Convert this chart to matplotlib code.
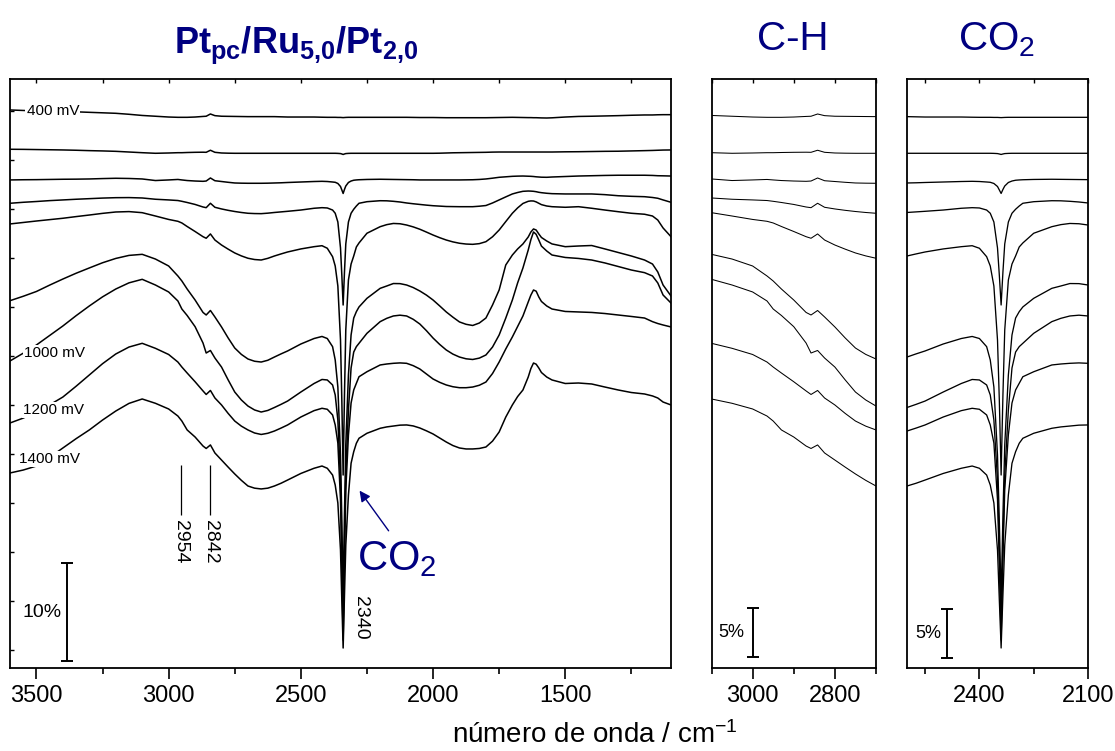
import numpy as np
import matplotlib
matplotlib.use("Agg")
import matplotlib.pyplot as plt
from matplotlib.ticker import MultipleLocator, FixedLocator, NullFormatter

plt.rcParams['font.family'] = ['Liberation Sans', 'DejaVu Sans']
plt.rcParams['mathtext.fontset'] = 'custom'
plt.rcParams['mathtext.rm'] = 'Liberation Sans'
plt.rcParams['mathtext.it'] = 'Liberation Sans:italic'
plt.rcParams['mathtext.bf'] = 'Liberation Sans:bold'

NAVY = '#000080'

# ---- spectra (stacked, in % with offsets), common wavenumber grid / cm-1 ----
wavenumber = [3600, 3550, 3500, 3450, 3400, 3350, 3300, 3250, 3200, 3150,
              3100, 3050, 3000, 2965, 2950, 2930, 2900, 2870, 2858, 2842,
              2825, 2800, 2775, 2750, 2725, 2700, 2675, 2650, 2625, 2600,
              2575, 2550, 2500, 2450, 2420, 2400, 2380, 2370, 2360, 2350,
              2345, 2340, 2335, 2330, 2320, 2310, 2300, 2290, 2280, 2250,
              2200, 2175, 2150, 2125, 2100, 2075, 2050, 2025, 2000, 1975,
              1950, 1925, 1900, 1875, 1850, 1825, 1800, 1775, 1750, 1725,
              1700, 1680, 1660, 1640, 1630, 1620, 1610, 1600, 1590, 1570,
              1550, 1500, 1450, 1400, 1350, 1300, 1250, 1200, 1170, 1150,
              1130, 1100]

trace_1 = [56.94, 56.89, 56.84, 56.82, 56.79, 56.75, 56.70, 56.65, 56.60, 56.50,
           56.38, 56.30, 56.22, 56.19, 56.19, 56.19, 56.22, 56.28, 56.30, 56.53,
           56.36, 56.30, 56.29, 56.28, 56.27, 56.26, 56.26, 56.26, 56.26, 56.26,
           56.24, 56.22, 56.22, 56.22, 56.20, 56.19, 56.19, 56.19, 56.18, 56.18,
           56.17, 56.16, 56.17, 56.18, 56.19, 56.19, 56.19, 56.19, 56.19, 56.19,
           56.19, 56.19, 56.19, 56.19, 56.19, 56.18, 56.17, 56.17, 56.17, 56.16,
           56.15, 56.15, 56.15, 56.15, 56.15, 56.15, 56.15, 56.16, 56.17, 56.18,
           56.19, 56.18, 56.17, 56.16, 56.16, 56.15, 56.15, 56.14, 56.13, 56.12,
           56.14, 56.22, 56.28, 56.30, 56.33, 56.36, 56.40, 56.43, 56.43, 56.45,
           56.46, 56.46]

trace_2 = [52.93, 52.92, 52.90, 52.88, 52.86, 52.83, 52.79, 52.76, 52.72, 52.65,
           52.58, 52.52, 52.55, 52.58, 52.58, 52.60, 52.62, 52.63, 52.62, 52.83,
           52.62, 52.55, 52.53, 52.52, 52.52, 52.52, 52.52, 52.52, 52.52, 52.52,
           52.52, 52.52, 52.52, 52.52, 52.52, 52.52, 52.52, 52.52, 52.51, 52.49,
           52.45, 52.40, 52.45, 52.49, 52.51, 52.52, 52.52, 52.52, 52.52, 52.52,
           52.52, 52.52, 52.52, 52.52, 52.52, 52.52, 52.52, 52.52, 52.52, 52.53,
           52.55, 52.57, 52.58, 52.59, 52.60, 52.61, 52.62, 52.64, 52.65, 52.65,
           52.65, 52.65, 52.65, 52.65, 52.65, 52.65, 52.65, 52.65, 52.65, 52.65,
           52.65, 52.67, 52.68, 52.70, 52.72, 52.73, 52.76, 52.79, 52.81, 52.83,
           52.85, 52.86]

trace_3 = [49.80, 49.82, 49.83, 49.85, 49.87, 49.88, 49.90, 49.94, 49.97, 49.95,
           49.90, 49.74, 49.80, 49.85, 49.80, 49.74, 49.69, 49.66, 49.69, 50.00,
           49.72, 49.64, 49.56, 49.49, 49.47, 49.46, 49.46, 49.46, 49.47, 49.49,
           49.51, 49.54, 49.59, 49.64, 49.66, 49.64, 49.59, 49.56, 49.44, 49.13,
           48.78, 48.42, 48.83, 49.18, 49.54, 49.69, 49.77, 49.80, 49.82, 49.85,
           49.87, 49.86, 49.85, 49.84, 49.83, 49.82, 49.80, 49.80, 49.80, 49.80,
           49.80, 49.80, 49.80, 49.81, 49.82, 49.85, 49.90, 49.98, 50.07, 50.12,
           50.17, 50.19, 50.20, 50.18, 50.17, 50.15, 50.12, 50.10, 50.08, 50.07,
           50.10, 50.15, 50.20, 50.23, 50.26, 50.28, 50.28, 50.28, 50.26, 50.23,
           50.22, 50.20]

trace_4 = [47.42, 47.52, 47.60, 47.69, 47.76, 47.83, 47.89, 47.95, 47.99, 48.00,
           47.96, 47.83, 47.76, 47.70, 47.62, 47.50, 47.30, 47.04, 46.97, 47.42,
           47.01, 46.84, 46.70, 46.58, 46.48, 46.40, 46.37, 46.36, 46.41, 46.48,
           46.54, 46.60, 46.73, 46.91, 46.97, 46.94, 46.73, 46.40, 45.51, 42.86,
           40.10, 37.04, 40.41, 43.27, 45.51, 46.40, 46.81, 47.14, 47.42, 47.58,
           47.68, 47.67, 47.62, 47.55, 47.45, 47.37, 47.30, 47.23, 47.17, 47.13,
           47.09, 47.08, 47.07, 47.07, 47.07, 47.12, 47.19, 47.45, 47.76, 48.07,
           48.37, 48.52, 48.64, 48.67, 48.66, 48.64, 48.60, 48.54, 48.50, 48.44,
           48.40, 48.37, 48.37, 48.37, 48.30, 48.19, 48.13, 48.09, 48.01, 47.93,
           47.76, 47.52]

trace_5 = [45.31, 45.46, 45.61, 45.75, 45.89, 46.06, 46.22, 46.39, 46.53, 46.57,
           46.46, 46.12, 45.77, 45.58, 45.41, 45.05, 44.54, 44.01, 43.85, 44.29,
           43.67, 43.16, 42.74, 42.35, 42.05, 41.81, 41.68, 41.63, 41.80, 42.04,
           42.25, 42.45, 42.76, 42.99, 43.09, 42.83, 41.97, 41.02, 38.98, 33.47,
           27.35, 19.69, 27.86, 34.49, 39.59, 41.22, 42.04, 42.96, 43.37, 44.36,
           45.03, 45.24, 45.36, 45.33, 45.20, 45.01, 44.77, 44.48, 44.18, 43.91,
           43.67, 43.48, 43.34, 43.26, 43.23, 43.30, 43.50, 44.00, 44.69, 45.55,
           46.40, 46.95, 47.40, 47.62, 47.66, 47.65, 47.56, 47.42, 47.28, 47.14,
           47.07, 47.01, 47.07, 46.91, 46.73, 46.56, 46.40, 46.30, 46.12, 45.71,
           44.90, 44.01]

trace_6 = [37.48, 37.93, 38.42, 39.07, 39.69, 40.28, 40.82, 41.35, 41.79, 42.10,
           42.21, 41.73, 41.02, 40.00, 39.49, 38.67, 37.55, 36.28, 36.02, 36.48,
           35.82, 34.80, 33.68, 32.65, 32.00, 31.53, 31.30, 31.22, 31.40, 31.73,
           32.05, 32.35, 33.06, 33.62, 33.83, 33.62, 32.79, 31.43, 28.67, 21.73,
           15.10, 6.94, 15.61, 22.76, 29.90, 33.98, 35.71, 36.36, 36.84, 37.72,
           38.74, 38.98, 39.23, 39.22, 39.08, 38.82, 38.47, 38.05, 37.55, 36.95,
           36.33, 35.80, 35.31, 35.07, 34.95, 35.20, 35.71, 37.04, 38.57, 41.12,
           42.14, 42.76, 43.27, 43.98, 44.49, 44.80, 44.69, 44.29, 43.93, 43.57,
           43.27, 42.99, 43.06, 43.11, 42.76, 42.40, 42.04, 41.63, 41.22, 40.41,
           39.08, 37.96]

trace_7 = [31.33, 32.12, 32.96, 33.93, 34.90, 35.95, 36.94, 37.87, 38.67, 39.30,
           39.66, 39.08, 38.37, 37.45, 36.63, 35.97, 34.83, 33.16, 32.14, 32.40,
           31.63, 30.71, 29.40, 28.16, 27.35, 26.73, 26.33, 26.12, 26.28, 26.58,
           26.90, 27.24, 28.16, 29.03, 29.44, 29.39, 28.88, 27.86, 25.31, 19.18,
           12.04, 4.39, 12.55, 19.69, 26.33, 30.61, 32.24, 32.79, 33.13, 34.15,
           35.34, 35.68, 35.92, 36.00, 35.92, 35.58, 35.10, 34.42, 33.67, 33.02,
           32.45, 32.03, 31.73, 31.55, 31.48, 31.62, 31.94, 32.75, 33.98, 35.70,
           37.55, 39.30, 40.82, 42.65, 43.70, 44.49, 44.25, 43.67, 43.05, 42.55,
           42.14, 41.89, 41.79, 41.63, 41.33, 40.97, 40.61, 40.34, 40.00, 39.29,
           38.06, 37.24]

trace_8 = [25.00, 25.50, 26.12, 26.85, 27.65, 28.75, 29.90, 31.05, 32.04, 32.75,
           33.13, 32.62, 31.99, 31.22, 30.71, 30.10, 29.21, 28.27, 27.91, 28.32,
           27.55, 26.84, 25.98, 25.20, 24.68, 24.29, 23.98, 23.83, 23.95, 24.18,
           24.48, 24.80, 25.61, 26.26, 26.50, 26.40, 25.82, 24.80, 22.96, 17.14,
           10.51, 2.86, 11.02, 18.16, 23.78, 27.04, 28.37, 29.05, 29.72, 30.23,
           30.92, 31.02, 31.09, 31.13, 31.09, 30.85, 30.51, 30.00, 29.49, 29.15,
           28.88, 28.70, 28.60, 28.60, 28.67, 28.85, 29.18, 30.05, 31.22, 32.55,
           33.78, 34.85, 35.92, 37.35, 38.05, 38.57, 38.45, 37.86, 37.40, 36.94,
           36.63, 36.38, 36.33, 36.28, 36.17, 36.02, 35.87, 35.71, 35.34, 35.15,
           35.00, 34.80]

trace_9 = [19.90, 20.20, 20.61, 21.50, 22.45, 23.40, 24.29, 25.30, 26.22, 27.00,
           27.45, 27.01, 26.43, 25.71, 25.20, 24.29, 23.57, 22.65, 22.40, 22.76,
           21.94, 21.22, 20.50, 19.80, 19.15, 18.57, 18.35, 18.27, 18.35, 18.57,
           18.85, 19.18, 19.85, 20.38, 20.61, 20.38, 19.69, 18.67, 16.84, 12.04,
           6.94, 2.04, 7.45, 12.55, 17.65, 20.89, 22.07, 22.93, 23.44, 23.95,
           24.46, 24.60, 24.69, 24.78, 24.80, 24.70, 24.49, 24.20, 23.88, 23.47,
           23.06, 22.70, 22.45, 22.35, 22.35, 22.40, 22.55, 23.15, 24.08, 25.60,
           26.84, 27.70, 28.37, 29.69, 30.55, 31.12, 31.00, 30.61, 30.15, 29.69,
           29.39, 29.03, 29.08, 28.98, 28.67, 28.37, 28.11, 27.96, 27.76, 27.55,
           27.14, 26.84]

traces = [trace_1, trace_2, trace_3, trace_4, trace_5,
          trace_6, trace_7, trace_8, trace_9]

# potential labels written on the traces: (text, wavenumber, level)
potential_labels = [('400 mV', 3438, 56.84),
                    ('1000 mV', 3430, 32.14),
                    ('1200 mV', 3434, 26.33),
                    ('1400 mV', 3449, 21.33)]

band_marks = [2954, 2842]
co2_band = 2340

# ---- figure ----
W, H = 1115, 751
fig = plt.figure(figsize=(W / 100, H / 100), dpi=100)
y_bot, y_top = 668, 79


def axes_px(x0, x1):
    return fig.add_axes([x0 / W, (H - y_bot) / H, (x1 - x0) / W, (y_bot - y_top) / H])


ax1 = axes_px(10, 671)
ax2 = axes_px(711.5, 876)
ax3 = axes_px(907, 1088)

panels = [(ax1, (3600, 1100), 500, 250, 1.1),
          (ax2, (3100, 2700), 200, 100, 0.75),
          (ax3, (2600, 2100), 300, 150, 0.95)]

for ax, xl, major, minor, lw in panels:
    for tr in traces:
        ax.plot(wavenumber, tr, color='k', lw=lw, zorder=2,
                solid_joinstyle='round')
    ax.set_xlim(*xl)
    ax.set_ylim(0, 60.1)
    for sp in ax.spines.values():
        sp.set_linewidth(1.3)
    ax.xaxis.set_major_locator(MultipleLocator(major))
    ax.xaxis.set_minor_locator(MultipleLocator(minor))
    ax.tick_params(axis='x', which='major', direction='out', length=8, width=1.2,
                   labelsize=17, pad=4, top=False)
    ax.tick_params(axis='x', which='minor', direction='out', length=4, width=1.2,
                   top=False)
    ax.set_yticks([])
    sec = ax.secondary_xaxis('top')
    sec.xaxis.set_major_locator(MultipleLocator(major))
    sec.xaxis.set_minor_locator(MultipleLocator(minor))
    sec.xaxis.set_major_formatter(NullFormatter())
    sec.tick_params(axis='x', which='both', direction='in', length=3, width=1.0)
    sec.spines['top'].set_visible(False)

# inward ticks on the left edge of the main panel
ax1.yaxis.set_major_locator(FixedLocator(np.arange(1.84, 60, 5)))
ax1.tick_params(axis='y', which='major', direction='in', length=3, width=1.0,
                labelleft=False)

# potential labels
for txt, xw, yv in potential_labels:
    ax1.text(xw, yv, txt, fontsize=11, ha='center', va='center', zorder=5,
             bbox=dict(facecolor='white', edgecolor='none', pad=1.0))

# band markers
ax1.vlines(band_marks, 15.61, 20.71, colors='k', lw=0.9)
for b in band_marks:
    ax1.text(b, 12.86, str(b), rotation=-90, fontsize=14, ha='center', va='center')
ax1.text(2275, 5.1, str(co2_band), rotation=-90, fontsize=14, ha='center', va='center')

# CO2 annotation
ax1.annotate('', xy=(2278, 18.1), xytext=(2168, 14.0),
             arrowprops=dict(arrowstyle='-|>', color=NAVY, lw=1.0,
                             mutation_scale=16, shrinkA=0, shrinkB=0))
ax1.text(2286, 10.0, 'CO$_2$', color=NAVY, fontsize=30, ha='left', va='baseline')

# scale bars
scale_bars = [(ax1, 3385, 0.71, 10, '10%', 3404, 14),
              (ax2, 3000, 1.12, 5, '5%', 3019, 13),
              (ax3, 2489, 1.02, 5, '5%', 2504, 13)]
for ax, xb, y0, length, txt, xt, fs in scale_bars:
    ax.errorbar([xb], [y0 + length / 2], yerr=[length / 2], fmt='none', ecolor='k',
                elinewidth=1.4, capsize=4, capthick=1.4)
    ax.text(xt, y0 + length / 2, txt, fontsize=fs, ha='right', va='center')

# titles
fig.text(174 / W, 1 - 53 / H, r'$\mathbf{Pt_{pc}/Ru_{5{,}0}/Pt_{2{,}0}}$', color=NAVY,
         fontsize=26, ha='left', va='baseline')
fig.text(793 / W, 1 - 50 / H, 'C-H', color=NAVY, fontsize=29, ha='center',
         va='baseline')
fig.text(997 / W, 1 - 50 / H, 'CO$_2$', color=NAVY, fontsize=29, ha='center',
         va='baseline')

fig.text(595 / W, 2 / H, r'número de onda / cm$^{-1}$', fontsize=20,
         ha='center', va='bottom')

fig.savefig('out.png', dpi=100)
